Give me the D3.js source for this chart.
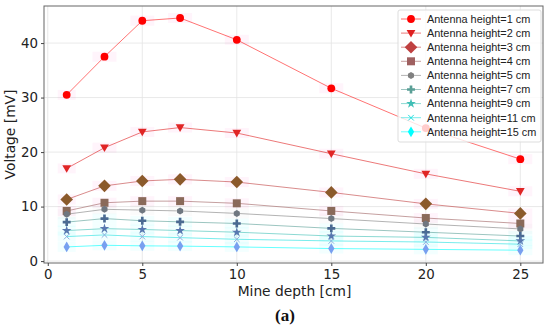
<!DOCTYPE html>
<html>
<head>
<meta charset="utf-8">
<script src="https://cdn.jsdelivr.net/npm/d3@7"></script>
<style>
  body { margin: 0; background: #fff; }
  svg { display: block; font-family: "DejaVu Sans", sans-serif; }
</style>
</head>
<body>
<div id="chart"></div>
<script>
// mine depth (x)
var depths = [1, 3, 5, 7, 10, 15, 20, 25];
// antenna heights (one series per height)
var heights = [1, 2, 3, 4, 5, 7, 9, 11, 15];
// voltage [mV]
var v1  = [30.5, 37.5, 44.1, 44.6, 40.6, 31.7, 24.4, 18.7];
var v2  = [17.0, 20.8, 23.7, 24.5, 23.5, 19.7, 16.0, 12.8];
var v3  = [11.3, 13.8, 14.7, 15.0, 14.5, 12.6, 10.5, 8.75];
var v4  = [9.2, 10.7, 11.0, 11.0, 10.6, 9.2, 7.9, 6.9];
var v5  = [8.6, 9.5, 9.35, 9.2, 8.75, 7.8, 6.8, 5.9];
var v7  = [7.15, 7.8, 7.4, 7.2, 6.9, 6.0, 5.3, 4.6];
var v9  = [5.6, 5.95, 5.8, 5.6, 5.3, 4.6, 4.35, 3.7];
var v11 = [4.5, 4.8, 4.5, 4.3, 4.0, 3.7, 3.5, 3.1];
var v15 = [2.6, 2.9, 2.8, 2.75, 2.6, 2.3, 2.15, 2.0];
var xTicks = [0, 5, 10, 15, 20, 25];
var yTicks = [0, 10, 20, 30, 40];

var allValues = [v1, v2, v3, v4, v5, v7, v9, v11, v15];

// legend / line colours run from red to cyan
var colors = ["#ff0000", "#df2020", "#bf4040", "#9f6060", "#808080",
              "#5a9f96", "#40bfb6", "#20dfdf", "#00ffff"];
// marker colours as they look inside the plot
var markColors = ["#ff0000", "#e02525", "#8b5a2b", "#8a6a5a", "#6f7780",
                  "#4a6a92", "#5878b0", "#8ab0e0", "#78a0f0"];
var shapes = ["circle", "tri", "diamond", "square", "hex", "plus", "star", "x", "thin"];

var W = 550, H = 327;
var margin = {left: 44, right: 7, top: 6, bottom: 64};
var w = W - margin.left - margin.right,
    h = H - margin.top - margin.bottom;

var svg = d3.select("#chart").append("svg")
    .attr("width", W).attr("height", H);

var g = svg.append("g")
    .attr("transform", "translate(" + margin.left + "," + margin.top + ")");

var x = d3.scaleLinear().domain([-0.2, 26.2]).range([0, w]);
var y = d3.scaleLinear().domain([-0.35, 46.8]).range([h, 0]);

// grid
g.selectAll(".gx").data(xTicks).enter().append("line")
    .attr("x1", d => x(d)).attr("x2", d => x(d))
    .attr("y1", 0).attr("y2", h)
    .attr("stroke", "#e3e3e3").attr("stroke-width", 0.8);
g.selectAll(".gy").data(yTicks).enter().append("line")
    .attr("x1", 0).attr("x2", w)
    .attr("y1", d => y(d)).attr("y2", d => y(d))
    .attr("stroke", "#e3e3e3").attr("stroke-width", 0.8);

// marker path builder
function markerPath(type, s) {
    if (type == "circle") return d3.symbol(d3.symbolCircle, s * s * 0.75)();
    if (type == "tri") return "M" + (-s * 0.55) + "," + (-s * 0.4) + "L" + (s * 0.55) + "," + (-s * 0.4) + "L0," + (s * 0.55) + "Z";
    if (type == "diamond") return "M0," + (-s * 0.7) + "L" + (s * 0.7) + ",0L0," + (s * 0.7) + "L" + (-s * 0.7) + ",0Z";
    if (type == "square") return "M" + (-s / 2) + "," + (-s / 2) + "h" + s + "v" + s + "h" + (-s) + "Z";
    if (type == "hex") {
        var p = [];
        for (var k = 0; k < 6; k++) {
            var a = Math.PI / 6 + k * Math.PI / 3;
            p.push([Math.cos(a) * s * 0.5, Math.sin(a) * s * 0.5]);
        }
        return "M" + p.join("L") + "Z";
    }
    if (type == "plus") return d3.symbol(d3.symbolCross, s * s * 0.55)();
    if (type == "star") return d3.symbol(d3.symbolStar, s * s * 0.45)();
    if (type == "thin") return "M0," + (-s * 0.6) + "L" + (s * 0.35) + ",0L0," + (s * 0.6) + "L" + (-s * 0.35) + ",0Z";
    return "";
}
function xPath(s) {
    var r = s * 0.4;
    return "M" + (-r) + "," + (-r) + "L" + r + "," + r + "M" + (-r) + "," + r + "L" + r + "," + (-r);
}

// faint shading behind the markers
allValues.forEach(function (vals, i) {
    var shade = i < 4 ? "#ff66cc" : (i == 4 ? "#bbbbbb" : "#33ffff");
    g.selectAll(".sh" + i).data(vals).enter().append("rect")
        .attr("x", (d, j) => x(depths[j]) - (j == 0 ? 9 : 12))
        .attr("width", (d, j) => j == 0 ? 18 : 24)
        .attr("y", d => y(d) - 5)
        .attr("height", 10)
        .attr("fill", shade)
        .attr("opacity", i < 4 ? 0.07 : 0.06);
});

var line = d3.line().x((d, j) => x(depths[j])).y(d => y(d));

allValues.forEach(function (vals, i) {
    g.append("path")
        .datum(vals)
        .attr("d", line)
        .attr("fill", "none")
        .attr("stroke", colors[i])
        .attr("stroke-opacity", i == 0 ? 0.55 : 0.6)
        .attr("stroke-width", 1);
});

var sizes = [8, 8, 9, 8, 7, 8, 8, 7, 9];
allValues.forEach(function (vals, i) {
    var pts = g.selectAll(".m" + i).data(vals).enter().append("path")
        .attr("transform", (d, j) => "translate(" + x(depths[j]) + "," + y(d) + ")");
    if (shapes[i] == "x") {
        pts.attr("d", xPath(sizes[i])).attr("fill", "none")
            .attr("stroke", markColors[i]).attr("stroke-width", 1);
    } else {
        pts.attr("d", markerPath(shapes[i], sizes[i])).attr("fill", markColors[i]);
    }
});

// axes frame
g.append("rect").attr("x", 0).attr("y", 0).attr("width", w).attr("height", h)
    .attr("fill", "none").attr("stroke", "#666").attr("stroke-width", 1);

// ticks + labels
var xa = g.append("g").attr("transform", "translate(0," + h + ")")
    .call(d3.axisBottom(x).tickValues(xTicks).tickSize(3).tickPadding(3));
var ya = g.append("g")
    .call(d3.axisLeft(y).tickValues(yTicks).tickSize(3).tickPadding(3));
[xa, ya].forEach(function (a) {
    a.select(".domain").remove();
    a.selectAll("line").attr("stroke", "#444");
    a.selectAll("text").attr("font-size", 13.4).attr("fill", "#222")
        .attr("font-family", "DejaVu Sans");
});

svg.append("text")
    .attr("x", margin.left + w / 2 + 1).attr("y", 296)
    .attr("text-anchor", "middle").attr("font-size", 13.8).attr("fill", "#222")
    .text("Mine depth [cm]");
svg.append("text")
    .attr("transform", "translate(15," + (margin.top + h / 2) + ") rotate(-90)")
    .attr("text-anchor", "middle").attr("font-size", 13.8).attr("fill", "#222")
    .text("Voltage [mV]");
svg.append("text")
    .attr("x", 285).attr("y", 321)
    .attr("text-anchor", "middle").attr("font-size", 17).attr("font-weight", "bold")
    .attr("font-family", "Liberation Serif, serif").attr("fill", "#111")
    .text("(a)");

// legend
var lg = svg.append("g").attr("transform", "translate(398,10)");
lg.append("rect").attr("width", 143).attr("height", 132).attr("rx", 2)
    .attr("fill", "#fff").attr("fill-opacity", 0.8)
    .attr("stroke", "#ddd").attr("stroke-width", 1);
heights.forEach(function (hh, i) {
    var yy = 9 + i * 14.1;
    lg.append("line").attr("x1", 3).attr("x2", 23).attr("y1", yy).attr("y2", yy)
        .attr("stroke", colors[i]).attr("stroke-opacity", 0.6).attr("stroke-width", 1);
    var m = lg.append("path").attr("transform", "translate(13," + yy + ")");
    if (shapes[i] == "x") {
        m.attr("d", xPath(sizes[i])).attr("fill", "none").attr("stroke", colors[i]);
    } else {
        m.attr("d", markerPath(shapes[i], sizes[i])).attr("fill", colors[i]);
    }
    lg.append("text").attr("x", 29).attr("y", yy + 3.8)
        .attr("font-size", 10.9).attr("font-family", "Liberation Sans, Arial, sans-serif")
        .attr("fill", "#222")
        .text("Antenna height=" + hh + " cm");
});
</script>
</body>
</html>
